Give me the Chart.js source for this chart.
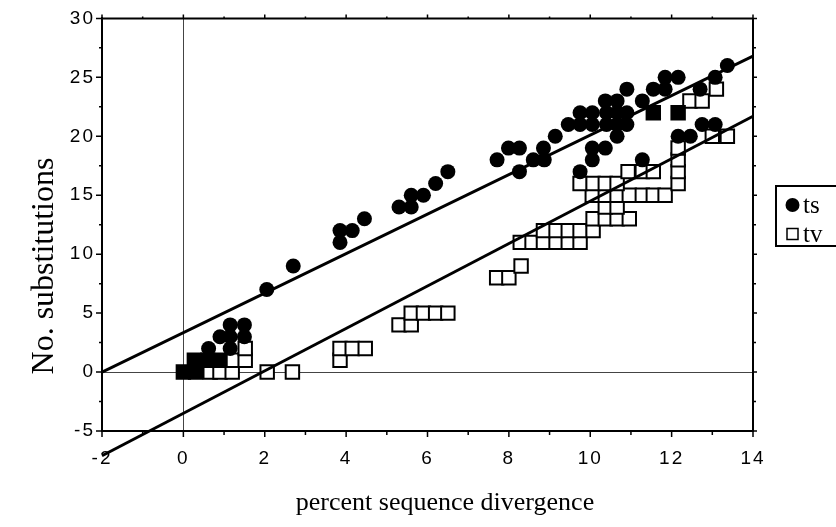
<!DOCTYPE html>
<html>
<head>
<meta charset="utf-8">
<script src="https://cdn.jsdelivr.net/npm/chart.js@4/dist/chart.umd.min.js"></script>
<style>
  html, body { margin: 0; padding: 0; background: #fff; }
  canvas { display: block; }
</style>
</head>
<body>
<canvas id="chart" width="836" height="527"></canvas>
<script>
// transitions (ts), filled circles
const tsX = [0.62, 0.9, 1.15, 1.5, 1.15, 1.5, 1.15,
  2.05, 2.7, 3.85, 3.85, 4.15, 4.45,
  5.3, 5.6, 5.6, 5.9, 6.2, 6.5,
  7.71, 7.99, 8.26, 8.26, 8.6, 8.87, 8.85, 9.14, 9.46, 9.75, 9.75, 10.05, 10.05,
  10.37, 10.66, 10.4, 10.66, 10.9, 10.4, 10.66, 10.9,
  10.9, 10.66, 10.05, 10.37, 10.05, 9.75, 11.28, 11.28, 11.55, 11.84,
  11.84, 12.16, 12.16, 12.46, 12.75, 13.07, 13.07, 13.37, 12.7];
const tsY = [2, 3, 4, 4, 3, 3, 2,
  7, 9, 12, 11, 12, 13,
  14, 14, 15, 15, 16, 17,
  18, 19, 19, 17, 18, 18, 19, 20, 21, 22, 21, 22, 21,
  23, 23, 22, 22, 22, 21, 21, 21,
  24, 20, 19, 19, 18, 17, 18, 23, 24, 24,
  25, 25, 20, 20, 21, 21, 25, 26, 24];

// transversions (tv), open squares
const tvX = [0.66, 0.9, 1.2, 1.2, 1.52, 1.52, 2.06, 2.68,
  3.85, 3.85, 4.15, 4.47,
  5.3, 5.6, 5.6, 5.9, 6.2, 6.5,
  7.7, 8.0, 8.3,
  8.28, 8.57, 8.85, 9.16, 9.46, 9.75,
  8.85, 9.16, 9.46, 9.75, 10.07,
  10.07, 10.37, 10.66, 10.96,
  10.37, 10.66,
  10.05, 10.37, 10.66, 10.96, 11.28, 11.55, 11.84,
  9.75, 10.07, 10.37, 10.66, 12.16,
  10.93, 11.28, 11.55, 12.16,
  12.16, 12.16,
  13.0, 13.37,
  12.45, 12.75, 13.1];
const tvY = [0, 0, 0, 1, 1, 2, 0, 0,
  1, 2, 2, 2,
  4, 4, 5, 5, 5, 5,
  8, 8, 9,
  11, 11, 11, 11, 11, 11,
  12, 12, 12, 12, 12,
  13, 13, 13, 13,
  14, 14,
  15, 15, 15, 15, 15, 15, 15,
  16, 16, 16, 16, 16,
  17, 17, 17, 17,
  18, 19,
  20, 20,
  23, 23, 24];

// points where ts and tv coincide (printed as solid squares)
const bothX = [0, 0.3, 0.27, 0.6, 0.9, 11.55, 12.16];
const bothY = [0, 0, 1, 1, 1, 22, 22];

// fitted lines, end points
const fitX = [-2, 14];
const tsFitY = [0, 26.8];
const tvFitY = [-7.1, 21.7];

const xTicks = [-2, 0, 2, 4, 6, 8, 10, 12, 14];
const yTicks = [-5, 0, 5, 10, 15, 20, 25, 30];

const seriesNames = ['ts', 'tv'];
const xTitle = 'percent sequence divergence';
const yTitle = 'No. substitutions';

const pts = (xs, ys) => xs.map((x, i) => ({ x, y: ys[i] }));

const SERIF = '"Liberation Serif", "Times New Roman", serif';
const SANS = '"Liberation Sans", Arial, sans-serif';

// frame, ticks, titles and the boxed legend
const framePlugin = {
  id: 'frame',
  beforeDraw(chart) {
    chart.ctx.letterSpacing = '2px';
  },
  beforeDatasetsDraw(chart) {
    chart.ctx.letterSpacing = '0px';
  },
  afterDraw(chart) {
    const { ctx, chartArea: a, scales: { x, y } } = chart;
    ctx.save();
    ctx.strokeStyle = '#000';
    ctx.lineWidth = 2;
    ctx.beginPath();
    ctx.moveTo(a.left, a.top); ctx.lineTo(a.right, a.top);
    ctx.moveTo(a.right, a.top); ctx.lineTo(a.right, a.bottom);
    ctx.stroke();

    ctx.lineWidth = 1.5;
    ctx.beginPath();
    for (let v = x.min; v <= x.max; v++) {
      const px = x.getPixelForValue(v);
      const major = v % 2 === 0;
      ctx.moveTo(px, a.bottom); ctx.lineTo(px, a.bottom + (major ? 6 : 4));
      ctx.moveTo(px, a.top); ctx.lineTo(px, a.top - (major ? 4 : 2));
    }
    for (let v = y.min; v <= y.max; v += 2.5) {
      const py = y.getPixelForValue(v);
      const major = v % 5 === 0;
      ctx.moveTo(a.left, py); ctx.lineTo(a.left - (major ? 6 : 3), py);
      ctx.moveTo(a.right, py); ctx.lineTo(a.right + (major ? 4 : 3), py);
    }
    ctx.stroke();

    ctx.fillStyle = '#000';
    ctx.textAlign = 'center';
    ctx.textBaseline = 'middle';
    ctx.font = '26px ' + SERIF;
    ctx.fillText(xTitle, 445, 503);
    ctx.save();
    ctx.translate(45, 266);
    ctx.rotate(-Math.PI / 2);
    ctx.font = '32px ' + SERIF;
    ctx.fillText(yTitle, 0, 0);
    ctx.restore();

    // legend box
    const lx = 776, ly = 186, lh = 60;
    ctx.lineWidth = 2;
    ctx.strokeRect(lx, ly, 80, lh);
    const ds = chart.data.datasets;
    ctx.textAlign = 'left';
    ctx.font = '25px ' + SERIF;
    [0, 1].forEach((i) => {
      const cy = ly + 19 + i * 29;
      const d = ds[i];
      ctx.beginPath();
      if (d.pointStyle === 'circle') {
        ctx.fillStyle = d.backgroundColor;
        ctx.arc(792.5, cy, 7, 0, Math.PI * 2);
        ctx.fill();
      } else {
        ctx.fillStyle = d.backgroundColor;
        ctx.strokeStyle = d.borderColor;
        ctx.lineWidth = 1.5;
        ctx.rect(787, cy - 5.5, 11, 11);
        ctx.fill();
        ctx.stroke();
      }
      ctx.fillStyle = '#000';
      ctx.fillText(d.label, 803, cy + 1);
    });
    ctx.restore();
  }
};

const zeroLine = (c) => (c.tick && c.tick.value === 0 ? '#444' : 'rgba(0,0,0,0)');

new Chart(document.getElementById('chart'), {
  type: 'scatter',
  data: {
    datasets: [
      {
        label: seriesNames[0],
        data: pts(tsX, tsY),
        pointStyle: 'circle',
        pointRadius: 7.5,
        backgroundColor: '#000',
        borderColor: '#000',
        borderWidth: 0,
        order: 2
      },
      {
        label: seriesNames[1],
        data: pts(tvX, tvY),
        pointStyle: 'rect',
        pointRadius: 9.5,
        backgroundColor: '#fff',
        borderColor: '#000',
        borderWidth: 2,
        order: 4
      },
      {
        label: 'ts+tv',
        data: pts(bothX, bothY),
        pointStyle: 'rect',
        pointRadius: 9.5,
        backgroundColor: '#000',
        borderColor: '#000',
        borderWidth: 2,
        order: 3
      },
      {
        label: 'ts fit',
        data: pts(fitX, tsFitY),
        showLine: true,
        pointRadius: 0,
        borderColor: '#000',
        borderWidth: 3,
        order: 1
      },
      {
        label: 'tv fit',
        data: pts(fitX, tvFitY),
        showLine: true,
        pointRadius: 0,
        borderColor: '#000',
        borderWidth: 3,
        clip: false,
        order: 1
      }
    ]
  },
  options: {
    responsive: false,
    animation: false,
    events: [],
    layout: { padding: { left: 0, right: 83, top: 17, bottom: 0 } },
    plugins: {
      legend: { display: false },
      tooltip: { enabled: false }
    },
    scales: {
      x: {
        type: 'linear',
        min: -2,
        max: 14,
        afterFit: (s) => { s.height = 96; },
        afterBuildTicks: (s) => { s.ticks = xTicks.map((v) => ({ value: v })); },
        ticks: { color: '#000', font: { family: SANS, size: 19 }, padding: 16, maxRotation: 0 },
        grid: { color: zeroLine, lineWidth: 1, drawTicks: false },
        border: { color: '#000', width: 2 }
      },
      y: {
        min: -5,
        max: 30,
        afterFit: (s) => { s.width = 102; },
        afterBuildTicks: (s) => { s.ticks = yTicks.map((v) => ({ value: v })); },
        ticks: { color: '#000', font: { family: SANS, size: 19 }, padding: 7 },
        grid: { color: zeroLine, lineWidth: 1, drawTicks: false },
        border: { color: '#000', width: 2 }
      }
    }
  },
  plugins: [framePlugin]
});
</script>
</body>
</html>
